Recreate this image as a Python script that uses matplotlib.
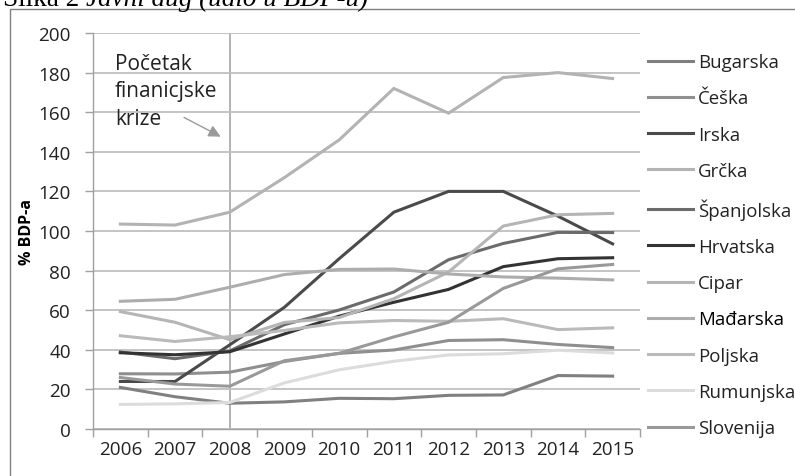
import matplotlib
matplotlib.use("Agg")
from matplotlib import pyplot as plt
from matplotlib.patches import Rectangle
import numpy as np

years = ["2006", "2007", "2008", "2009", "2010", "2011", "2012", "2013", "2014", "2015"]

bugarska   = [21.0, 16.3, 13.0, 13.7, 15.5, 15.3, 17.0, 17.2, 27.0, 26.7]
ceska      = [27.9, 27.8, 28.7, 34.1, 38.2, 39.9, 44.7, 45.1, 42.7, 41.1]
irska      = [24.0, 24.0, 42.5, 61.5, 86.0, 109.5, 120.0, 120.0, 107.5, 93.5]
grcka      = [103.5, 103.0, 109.5, 127.0, 146.0, 172.0, 159.5, 177.5, 180.0, 177.0]
spanjolska = [38.9, 35.5, 39.4, 52.7, 60.1, 69.2, 85.5, 93.7, 99.3, 99.2]
hrvatska   = [38.5, 37.5, 39.0, 48.0, 57.0, 64.0, 70.5, 82.0, 86.0, 86.5]
cipar      = [59.3, 53.9, 45.1, 53.8, 56.3, 65.8, 79.3, 102.5, 108.2, 108.9]
madjarska  = [64.5, 65.5, 71.6, 78.0, 80.6, 80.8, 78.3, 76.8, 76.2, 75.3]
poljska    = [47.1, 44.2, 46.6, 49.8, 53.6, 54.8, 54.4, 55.7, 50.2, 51.1]
rumunjska  = [12.4, 12.7, 13.4, 23.3, 29.9, 34.2, 37.4, 38.0, 39.8, 38.4]
slovenija  = [26.0, 22.7, 21.6, 34.5, 38.2, 46.5, 53.9, 71.0, 80.9, 83.1]

countries = ["Bugarska", "Češka", "Irska", "Grčka", "Španjolska", "Hrvatska",
             "Cipar", "Mađarska", "Poljska", "Rumunjska", "Slovenija"]
series = [bugarska, ceska, irska, grcka, spanjolska, hrvatska,
          cipar, madjarska, poljska, rumunjska, slovenija]
colors = ["#808080", "#8f8f8f", "#4a4a4a", "#b3b3b3", "#6b6b6b", "#333333",
          "#b5b5b5", "#adadad", "#bababa", "#dcdcdc", "#999999"]

plt.rcParams['font.family'] = ['Open Sans', 'DejaVu Sans']

fig = plt.figure(figsize=(7.95, 4.77), dpi=100)
ax = fig.add_axes([93 / 795, 1 - 430 / 477, 547 / 795, 396 / 477])

xs = np.arange(len(years))
for vals, name, c in zip(series, countries, colors):
  ax.plot(xs, vals, '-', color=c, lw=2.2, label=name, solid_joinstyle='miter')

# vertical marker at 2008
ax.axvline(2, ymin=0, ymax=1, color='#a6a6a6', lw=1.2, zorder=0.5)

ax.set_xlim(-0.5, len(years) - 0.5)
ax.set_ylim(0, 200)
ax.set_yticks(np.arange(0, 201, 20))
ax.set_xticks(xs)
ax.set_xticklabels(years)
ax.set_xticks(np.arange(-0.5, len(years), 1), minor=True)
ax.tick_params(axis='x', which='major', length=0, pad=8, labelsize=13.6, colors='#222222')
ax.tick_params(axis='x', which='minor', length=6, color='#a0a0a0', width=1)
ax.tick_params(axis='y', length=6, color='#a0a0a0', width=1, pad=10, labelsize=13.6, labelcolor='#222222')
ax.grid(axis='y', color='#bfbfbf', lw=1.3)
ax.set_axisbelow(True)
for s in ['top', 'right']:
  ax.spines[s].set_visible(False)
for s in ['left', 'bottom']:
  ax.spines[s].set_color('#a0a0a0')
  ax.spines[s].set_linewidth(1)

ax.set_ylabel("% BDP-a", fontsize=11.5, fontweight='bold', labelpad=2)

ax.text(-0.1, 190, "Početak\nfinanicjske\nkrize", fontsize=15, va='top', ha='left',
        color='#222222', linespacing=1.4)
ax.annotate("", xy=(1.88, 147), xytext=(1.12, 158),
            arrowprops=dict(arrowstyle='-|>', color='#9a9a9a', lw=1, mutation_scale=18))

leg = ax.legend(loc='upper left', bbox_to_anchor=(1.0, 0.97), frameon=False,
                fontsize=13.4, handlelength=2.4, handletextpad=0.25,
                labelspacing=0.98, borderaxespad=0.05)
for t in leg.get_texts():
  t.set_color('#222222')
  if t.get_text() == "Mađarska":
    t.set_color('black')

# outer frame and cut-off caption
fig.add_artist(Rectangle((10 / 795, -0.1), 1.2, 1.1 - 9.5 / 477, transform=fig.transFigure,
                         fill=False, edgecolor='#808080', lw=1))
t1 = fig.text(3 / 795, 1 - 6 / 477, "Slika 2 ", family='Liberation Serif', fontsize=19.5,
              va='baseline', ha='left')
fig.canvas.draw()
bb = t1.get_window_extent()
fig.text(bb.x1 / 795, 1 - 6 / 477, "Javni dug (udio u BDP-u)", family='Liberation Serif',
         style='italic', fontsize=19.5, va='baseline', ha='left')

fig.savefig("out.png", dpi=100)
